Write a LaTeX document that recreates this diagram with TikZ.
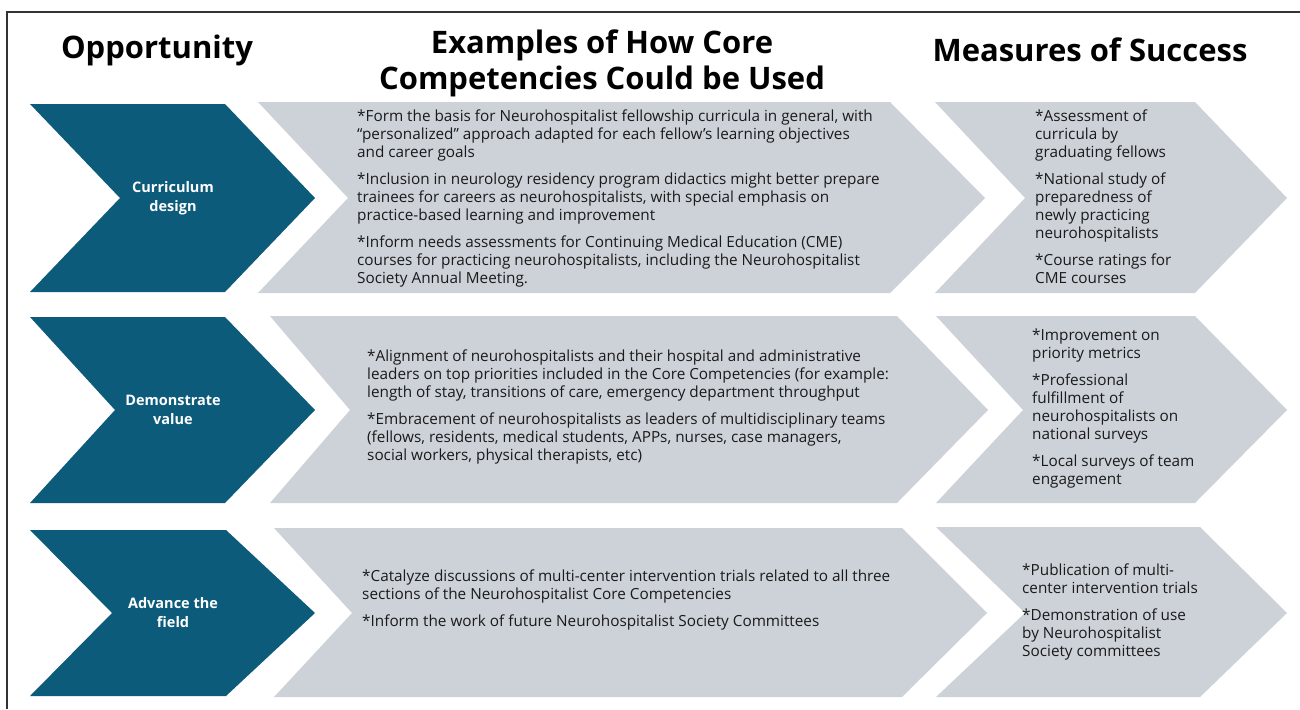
\documentclass[tikz,border=0pt]{standalone}
\usepackage{fontspec}
\setmainfont{Open Sans}
\definecolor{chevblue}{HTML}{0D5B7B}
\definecolor{chevgrey}{HTML}{CDD2D9}
\definecolor{txt}{HTML}{1A1A1A}
\begin{document}
\begin{tikzpicture}[x=1pt,y=-1pt,
  head/.style={font=\bfseries\fontsize{31}{36}\selectfont, text=black, align=center, inner sep=0pt},
  lab/.style={font=\bfseries\fontsize{14.5}{19}\selectfont, text=white, align=center, inner sep=0pt},
  body/.style={font=\fontsize{15.3}{18}\selectfont, text=txt, align=left, anchor=north west, inner sep=0pt},
  blue/.style={fill=chevblue},
  grey/.style={fill=chevgrey}]
\useasboundingbox (0,0) rectangle (1300,709);
\fill[white] (0,0) rectangle (1300,709);
\draw[line width=1.3pt, black!80] (7,709) -- (7,12) -- (1300,12);

% headers
\node[head] (h1) at (157,50) {Opportunity};
\node[head] (h2) at (602,63) {Examples of How Core\\Competencies Could be Used};
\node[head] (h3) at (1090,50) {Measures of Success};

% row 1
\fill[blue] (30,104) -- (225,104) -- (315,198) -- (225,292) -- (30,292) -- (120,198) -- cycle;
\fill[grey] (258,102) -- (890,102) -- (985,198) -- (890,293) -- (258,293) -- (348,198) -- cycle;
\fill[grey] (935,102) -- (1195,102) -- (1287,198) -- (1195,293) -- (935,293) -- (1025,198) -- cycle;
% row 2
\fill[blue] (30,317) -- (225,317) -- (315,410) -- (225,503) -- (30,503) -- (115,410) -- cycle;
\fill[grey] (270,316) -- (897,316) -- (988,410) -- (897,503) -- (270,503) -- (350,410) -- cycle;
\fill[grey] (936,316) -- (1195,316) -- (1287,410) -- (1195,503) -- (936,503) -- (1023,410) -- cycle;
% row 3
\fill[blue] (30,530) -- (226,530) -- (315,613) -- (226,696) -- (30,696) -- (112,613) -- cycle;
\fill[grey] (274,528) -- (902,528) -- (987,613) -- (902,697) -- (274,697) -- (352,613) -- cycle;
\fill[grey] (936,527) -- (1200,527) -- (1287,613) -- (1200,697) -- (936,697) -- (1025,613) -- cycle;

% labels
\node[lab] (l1) at (173,198) {Curriculum\\design};
\node[lab] (l2) at (173,410) {Demonstrate\\value};
\node[lab] (l3) at (173,613) {Advance the\\field};

% body text
\node[body] (t1) at (357,110) {*Form the basis for Neurohospitalist fellowship curricula in general, with\\
“personalized” approach adapted for each fellow’s learning objectives\\
and career goals\\[9pt]
*Inclusion in neurology residency program didactics might better prepare\\
trainees for careers as neurohospitalists, with special emphasis on\\
practice-based learning and improvement\\[9pt]
*Inform needs assessments for Continuing Medical Education (CME)\\
courses for practicing neurohospitalists, including the Neurohospitalist\\
Society Annual Meeting.};
\node[body] (m1) at (1035,110) {*Assessment of\\
curricula by\\
graduating fellows\\[9pt]
*National study of\\
preparedness of\\
newly practicing\\
neurohospitalists\\[9pt]
*Course ratings for\\
CME courses};

\node[body] (t2) at (367,350) {*Alignment of neurohospitalists and their hospital and administrative\\
leaders on top priorities included in the Core Competencies (for example:\\
length of stay, transitions of care, emergency department throughput\\[9pt]
*Embracement of neurohospitalists as leaders of multidisciplinary teams\\
(fellows, residents, medical students, APPs, nurses, case managers,\\
social workers, physical therapists, etc)};
\node[body] (m2) at (1032,329) {*Improvement on\\
priority metrics\\[9pt]
*Professional\\
fulfillment of\\
neurohospitalists on\\
national surveys\\[9pt]
*Local surveys of team\\
engagement};

\node[body] (t3) at (362,570) {*Catalyze discussions of multi-center intervention trials related to all three\\
sections of the Neurohospitalist Core Competencies\\[9pt]
*Inform the work of future Neurohospitalist Society Committees};
\node[body] (m3) at (1022,564) {*Publication of multi-\\
center intervention trials\\[9pt]
*Demonstration of use\\
by Neurohospitalist\\
Society committees};
\end{tikzpicture}
\end{document}
